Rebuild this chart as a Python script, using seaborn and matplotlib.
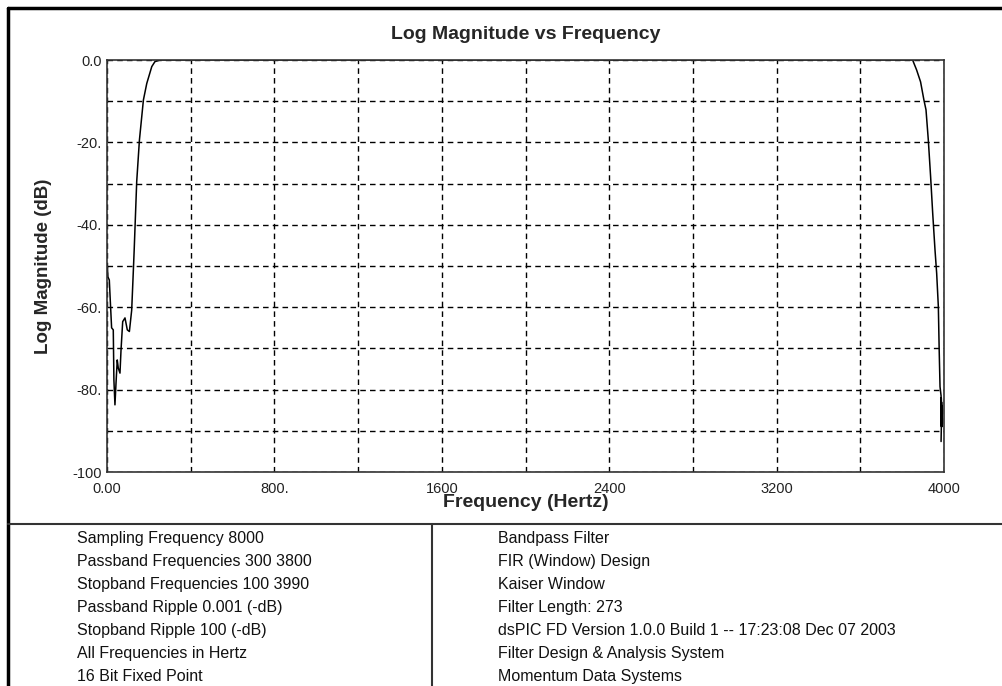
import pandas as pd
import matplotlib
matplotlib.use('Agg')
import matplotlib.pyplot as plt
import seaborn as sns
from matplotlib.lines import Line2D

# Frequency response (Hz, dB)
freq_hz = [2, 4, 11, 14, 22, 30, 33, 38, 43, 49, 54, 62, 67, 75, 86, 97, 107, 118, 126, 130,
           134, 142, 155, 174, 190, 214, 229, 253,
           3850, 3869, 3888, 3904, 3914, 3925, 3936, 3946, 3957, 3965, 3973, 3977, 3981,
           3986, 3988, 3987, 3989, 3988, 3990, 3989, 3986]
mag_db = [-50, -52.6, -53.4, -56.6, -65, -65.5, -77.7, -83.7, -78.5, -72.8, -74.8, -76, -70.4, -63.5, -62.6, -65.5, -65.9, -60.7, -51, -46,
          -40.5, -29.5, -19.4, -9.7, -5.7, -1.6, -0.4, 0,
          0, -2.4, -5.3, -9.7, -12.1, -19.4, -28.3, -37.2, -46.1, -51.8, -59.9, -70.4, -79.3,
          -81.5, -89, -82, -88.5, -83, -89, -84, -92.6]

x_ticks = list(range(0, 4001, 400))
x_labels = ['0.00', '', '800.', '', '1600', '', '2400', '', '3200', '', '4000']
y_ticks = list(range(0, -101, -10))
y_labels = ['0.0', '', '-20.', '', '-40.', '', '-60.', '', '-80.', '', '-100']

left_notes = ['Sampling Frequency 8000', 'Passband Frequencies 300 3800', 'Stopband Frequencies 100 3990',
              'Passband Ripple 0.001 (-dB)', 'Stopband Ripple 100 (-dB)', 'All Frequencies in Hertz',
              '16 Bit Fixed Point']
right_notes = ['Bandpass Filter', 'FIR (Window) Design', 'Kaiser Window', 'Filter Length: 273',
               'dsPIC FD Version 1.0.0 Build 1 -- 17:23:08 Dec 07 2003',
               'Filter Design & Analysis System', 'Momentum Data Systems']

resp = pd.DataFrame({'freq': freq_hz, 'db': mag_db})

sns.set_style("white")
plt.rcParams['font.family'] = ['Liberation Sans', 'DejaVu Sans']

W, H = 1002, 686
fig = plt.figure(figsize=(W / 100, H / 100), dpi=100)
ax = fig.add_axes([107 / W, 1 - 472 / H, (944 - 107) / W, (472 - 60) / H])

sns.lineplot(ax=ax, data=resp, x='freq', y='db', color='black', lw=1.1,
             sort=False, estimator=None)

ax.set_xlim(0, 4000)
ax.set_ylim(-100, 0)
ax.set_xticks(x_ticks)
ax.set_xticklabels(x_labels, fontsize=10.5, color='#222222')
ax.set_yticks(y_ticks)
ax.set_yticklabels(y_labels, fontsize=10.5, color='#222222')
ax.tick_params(length=0)
ax.tick_params(axis='x', pad=7)
ax.tick_params(axis='y', pad=4)
ax.grid(True, color='black', linestyle=(0, (4, 3)), lw=1)
for s in ax.spines.values():
    s.set_color('#333333')
    s.set_linewidth(1.2)

ax.set_xlabel('Frequency (Hertz)', fontsize=14, fontweight='bold', labelpad=-1)
ax.set_ylabel('Log Magnitude (dB)', fontsize=13.5, fontweight='bold', labelpad=14)
ax.set_title('Log Magnitude vs Frequency', fontsize=14, fontweight='bold', pad=15)

# outer frame (top and left only) and info panel dividers
fig.lines.append(Line2D([8 / W, 1], [1 - 8 / H] * 2, transform=fig.transFigure, color='black', lw=2.5))
fig.lines.append(Line2D([8 / W] * 2, [1 - 8 / H, 0], transform=fig.transFigure, color='black', lw=2.5))
fig.lines.append(Line2D([8 / W, 1], [1 - 524 / H] * 2, transform=fig.transFigure,
                        color='#333333', lw=1.5))
fig.lines.append(Line2D([432 / W] * 2, [1 - 524 / H, 0], transform=fig.transFigure,
                        color='#333333', lw=1.5))

for i, t in enumerate(left_notes):
    fig.text(77 / W, 1 - (538 + i * 23.1) / H, t, fontsize=11.5, va='center', ha='left', color='#111111')
for i, t in enumerate(right_notes):
    fig.text(498 / W, 1 - (538 + i * 23.1) / H, t, fontsize=11.5, va='center', ha='left', color='#111111')

plt.savefig('out.png', dpi=100)
